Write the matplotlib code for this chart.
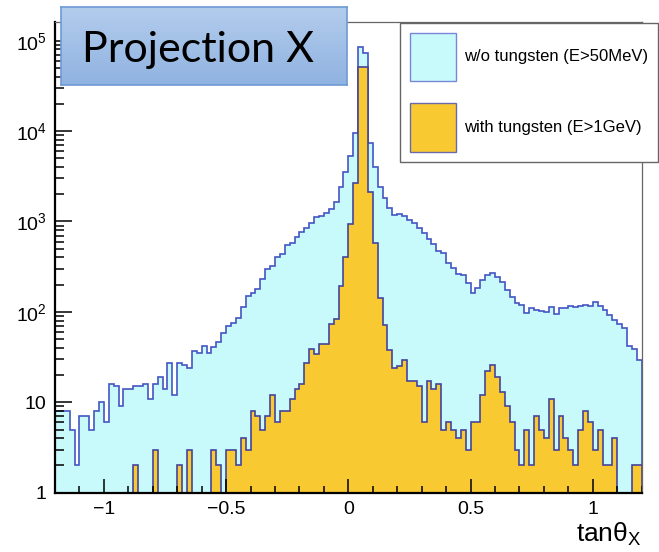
import numpy as np
import matplotlib.pyplot as plt
from matplotlib.patches import Patch
from matplotlib.colors import LinearSegmentedColormap
from matplotlib.ticker import MultipleLocator, LogLocator, FixedLocator, FixedFormatter, NullFormatter

plt.rcParams['font.family'] = 'Liberation Sans'
plt.rcParams['mathtext.fontset'] = 'custom'
plt.rcParams['mathtext.rm'] = 'Liberation Sans'
plt.rcParams['mathtext.it'] = 'Liberation Sans:italic'

# binning of tan(theta_x): 120 bins of width 0.02
x_min, x_max, n_bins = -1.2, 1.2, 120
edges = np.linspace(x_min, x_max, n_bins + 1)

# counts per bin
without_w = [
    8, 8, 8, 5, 2, 7, 7, 5, 8, 10,
    6, 16, 15, 9, 14, 14, 15, 15, 16, 11,
    16, 19, 14, 27, 12, 27, 26, 24, 37, 35,
    42, 35, 41, 46, 59, 69, 75, 86, 112, 151,
    163, 179, 230, 298, 325, 405, 434, 549, 574, 674,
    771, 854, 970, 1110, 1150, 1230, 1390, 1660, 2400, 3500,
    5300, 9500, 84600, 72600, 7300, 4000, 2430, 1800, 1400, 1180,
    1210, 1150, 1040, 955, 841, 740, 640, 564, 475, 452,
    345, 303, 262, 256, 207, 161, 182, 225, 256, 271,
    245, 216, 175, 145, 124, 119, 98, 110, 105, 102,
    100, 112, 96, 110, 111, 116, 112, 116, 119, 116,
    129, 116, 105, 92, 81, 74, 66, 42, 39, 29,
]
with_w = [
    0, 0, 0, 0, 0, 0, 0, 0, 0, 0,
    0, 0, 0, 0, 0, 0, 2, 0, 0, 0,
    3, 0, 0, 0, 0, 2, 0, 3, 0, 0,
    0, 0, 3, 2, 0, 3, 3, 2, 4, 3,
    8, 7, 5, 7, 12, 6, 8, 8, 11, 14,
    16, 27, 39, 34, 44, 44, 73, 84, 192, 408,
    940, 2650, 50800, 50800, 2140, 574, 141, 72, 38, 24,
    25, 29, 17, 17, 15, 6, 17, 14, 16, 5,
    6, 5, 4, 5, 3, 6, 6, 12, 22, 26,
    19, 13, 9, 6, 3, 2, 5, 2, 7, 5,
    4, 11, 3, 7, 4, 3, 2, 5, 8, 6,
    3, 5, 2, 2, 4, 0, 0, 0, 2, 2,
]

labels = ['w/o tungsten (E>50MeV)', 'with tungsten (E>1GeV)']
cyan, cyan_edge = '#C8FAFC', '#4455C4'
orange, orange_edge = '#F9C931', '#45449C'

fig = plt.figure(figsize=(6.59, 5.52), dpi=100)
ax = fig.add_axes([55 / 659, 1 - 492.7 / 552, 586.7 / 659, 470.7 / 552])

# zero bins are drawn at the bottom of the log axis
ax.stairs(np.clip(without_w, 1, None), edges, baseline=1, fill=True,
          facecolor=cyan, edgecolor=cyan_edge, linewidth=1.2)
ax.stairs(np.clip(with_w, 1, None), edges, baseline=1, fill=True,
          facecolor=orange, edgecolor=orange_edge, linewidth=1.2)

ax.set_yscale('log')
ax.set_xlim(x_min, x_max)
ax.set_ylim(1, 1.61e5)

ax.xaxis.set_major_locator(MultipleLocator(0.5))
ax.xaxis.set_minor_locator(MultipleLocator(0.1))
ax.xaxis.set_major_formatter(plt.FuncFormatter(lambda v, p: f'{v:g}'.replace('-', '\u2212')))
ax.yaxis.set_major_locator(FixedLocator([1, 10, 1e2, 1e3, 1e4, 1e5]))
ax.yaxis.set_major_formatter(FixedFormatter(['1', '10', r'$\mathregular{10^{2}}$', r'$\mathregular{10^{3}}$',
                                              r'$\mathregular{10^{4}}$', r'$\mathregular{10^{5}}$']))
ax.yaxis.set_minor_locator(LogLocator(base=10, subs=np.arange(2, 10)))
ax.yaxis.set_minor_formatter(NullFormatter())

ax.tick_params(axis='x', which='major', direction='in', length=10, width=1.1, labelsize=14, pad=6)
ax.tick_params(axis='x', which='minor', direction='in', length=5, width=1.1)
ax.tick_params(axis='y', which='major', direction='in', length=12, width=1.1, labelsize=14, pad=6)
ax.tick_params(axis='y', which='minor', direction='in', length=6.5, width=1.1)

for s in ['left', 'bottom']:
    ax.spines[s].set_linewidth(1.6)
for s in ['top', 'right']:
    ax.spines[s].set_color('#666666')
    ax.spines[s].set_linewidth(0.9)

ax.set_xlabel('tan\u03b8$_{\\mathregular{X}}$', loc='right', fontsize=19, labelpad=2)

handles = [Patch(facecolor=cyan, edgecolor='#7a86d8', label=labels[0]),
           Patch(facecolor=orange, edgecolor='#6a6aa8', label=labels[1])]
fig.legend(handles=handles, loc='upper left', bbox_to_anchor=(400 / 659, 1 - 22.5 / 552),
           borderaxespad=0, fancybox=False, framealpha=1, edgecolor='#666666',
           fontsize=12, handlelength=2.76, handleheight=4.1, labelspacing=1.32,
           borderpad=0.6, handletextpad=0.5)

# title box with a soft vertical gradient
bax = fig.add_axes([61 / 659, 1 - 85 / 552, 286 / 659, 78 / 552])
grad = np.linspace(0, 1, 100).reshape(-1, 1)
cmap = LinearSegmentedColormap.from_list('box', ['#B3CCEC', '#90B3E1'])
bax.imshow(grad, aspect='auto', cmap=cmap, extent=[0, 1, 0, 1])
bax.set_xticks([])
bax.set_yticks([])
for s in bax.spines.values():
    s.set_color('#6E9AD4')
    s.set_linewidth(1.2)
bax.text(0.075, 0.30, 'Projection X', fontsize=31, family='Lato', va='baseline', ha='left',
         transform=bax.transAxes)

fig.savefig('out.png', dpi=100)
